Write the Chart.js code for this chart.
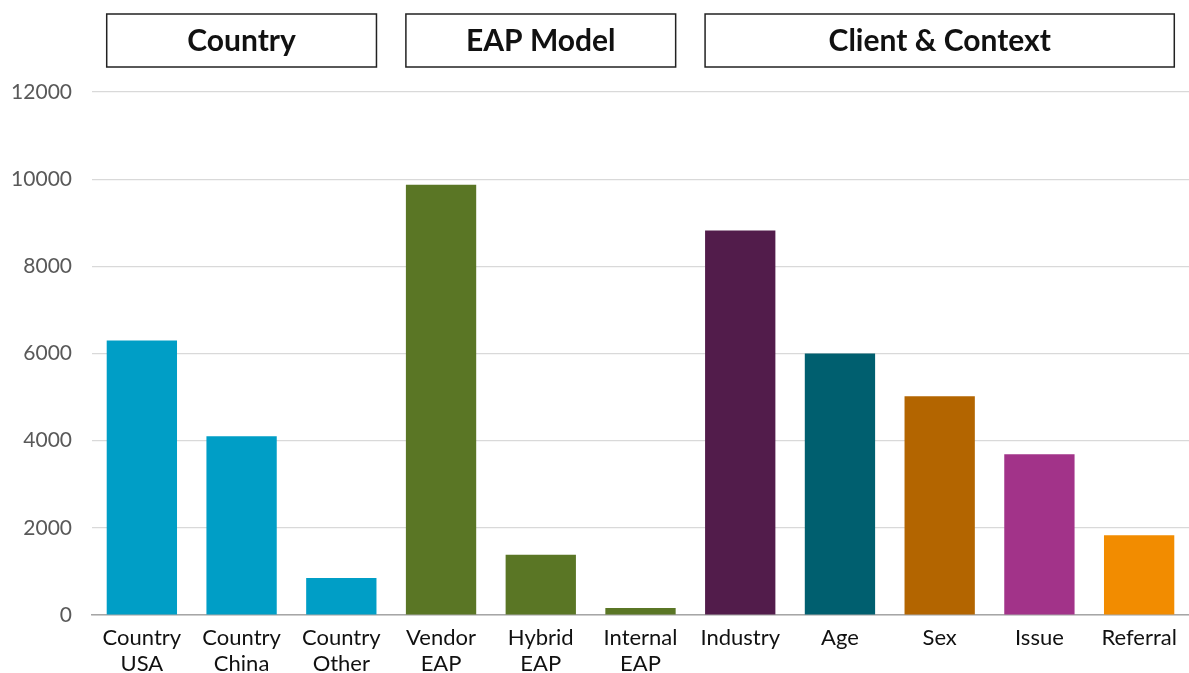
<!DOCTYPE html>
<html>
<head>
<meta charset="utf-8">
<script src="https://cdn.jsdelivr.net/npm/chart.js@4.4.0/dist/chart.umd.min.js"></script>
<style>
  html, body { margin: 0; padding: 0; background: #fff; }
  #wrap { width: 1189px; height: 673px; }
</style>
</head>
<body>
<div id="wrap"><canvas id="chart"></canvas></div>
<script>
// category labels (two lines where the original wraps)
const labels = [
  ["Country", "USA"], ["Country", "China"], ["Country", "Other"],
  ["Vendor", "EAP"], ["Hybrid", "EAP"], ["Internal", "EAP"],
  "Industry", "Age", "Sex", "Issue", "Referral"
];
const values = [6300, 4100, 850, 9870, 1380, 160, 8820, 6000, 5020, 3690, 1830];
const barColors = [
  "#009EC6", "#009EC6", "#009EC6",
  "#5A7625", "#5A7625", "#5A7625",
  "#521C4B", "#005F6F", "#B36500", "#A23389", "#F28C00"
];
const yTicks = [0, 2000, 4000, 6000, 8000, 10000, 12000];

// header boxes: name, first and last category index
const groupNames = ["Country", "EAP Model", "Client & Context"];
const groupStart = [0, 3, 6];
const groupEnd = [2, 5, 10];

const FONT = "Lato, 'Open Sans', sans-serif";

// draws the boxed group titles above the plot
const groupHeaders = {
  id: "groupHeaders",
  afterDraw(chart) {
    const ctx = chart.ctx;
    const x = chart.scales.x;
    const meta = chart.getDatasetMeta(0);
    const half = meta.data[0].width / 2;
    ctx.save();
    ctx.strokeStyle = "#222";
    ctx.lineWidth = 1.5;
    ctx.fillStyle = "#111";
    ctx.font = "bold 30px " + FONT;
    ctx.textAlign = "center";
    ctx.textBaseline = "middle";
    groupNames.forEach((name, i) => {
      const left = x.getPixelForValue(groupStart[i]) - half;
      const right = x.getPixelForValue(groupEnd[i]) + half;
      ctx.strokeRect(left, 14, right - left, 53);
      ctx.fillText(name, (left + right) / 2, 41);
    });
    ctx.restore();
  }
};

new Chart(document.getElementById("chart"), {
  type: "bar",
  data: {
    labels: labels,
    datasets: [{
      data: values,
      backgroundColor: barColors,
      barPercentage: 1,
      categoryPercentage: 0.705
    }]
  },
  options: {
    responsive: true,
    maintainAspectRatio: false,
    animation: false,
    layout: { padding: { top: 92, right: 0, left: 0, bottom: 0 } },
    plugins: {
      legend: { display: false },
      tooltip: { enabled: false }
    },
    scales: {
      x: {
        grid: { display: false },
        border: { display: true, color: "#a6a6a6", width: 1.5 },
        afterFit: (scale) => { scale.height = 58; },
        ticks: {
          color: "#111",
          font: { family: FONT, size: 22, lineHeight: 1.18 },
          padding: 2,
          maxRotation: 0,
          autoSkip: false
        }
      },
      y: {
        min: 0,
        max: 12000,
        afterBuildTicks: (scale) => {
          scale.ticks = yTicks.map(v => ({ value: v }));
        },
        afterFit: (scale) => { scale.width = 92; },
        border: { display: false },
        grid: { color: "#d9d9d9", lineWidth: 1.2, drawTicks: false },
        ticks: {
          color: "#595959",
          font: { family: FONT, size: 21 },
          padding: 20,
          callback: (v) => String(v)
        }
      }
    }
  },
  plugins: [groupHeaders]
});
</script>
</body>
</html>
